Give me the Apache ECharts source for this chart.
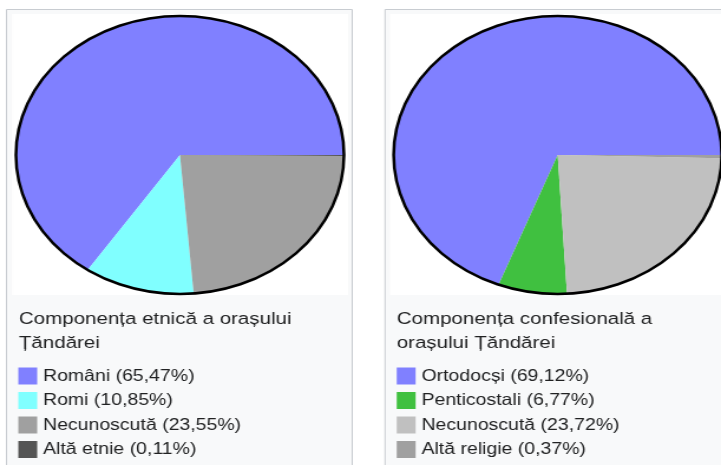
<!DOCTYPE html>
<html>
<head>
<meta charset="utf-8">
<script src="https://cdn.jsdelivr.net/npm/echarts@6/dist/echarts.min.js"></script>
<style>
  html, body { margin: 0; padding: 0; background: #ffffff; overflow: hidden; }
  #wrap { width: 721px; height: 465px; overflow: hidden; position: relative; }
  #chart { width: 611px; height: 465px; transform: scaleX(1.18); transform-origin: 0 0; }
</style>
</head>
<body>
<div id="wrap"><div id="chart"></div></div>
<script>
// ---- data ----
const etnieCategories = ['Români', 'Romi', 'Necunoscută', 'Altă etnie'];
const etnieValues = [65.47, 10.85, 23.55, 0.11];
const etnieColors = ['#8080ff', '#80ffff', '#a0a0a0', '#555555'];

const religieCategories = ['Ortodocși', 'Penticostali', 'Necunoscută', 'Altă religie'];
const religieValues = [69.12, 6.77, 23.72, 0.37];
const religieColors = ['#8080ff', '#40c040', '#c0c0c0', '#a0a0a0'];

const panelTitles = ['Componența etnică a orașului\nȚăndărei', 'Componența confesională a\norașului Țăndărei'];

// ---- helpers ----
const FONT = '"Liberation Sans", Arial, sans-serif';
const TXT = '#202122';
function label(cat, v) { return cat + ' (' + v.toFixed(2).replace('.', ',') + '%)'; }
function pieData(cats, vals, cols) {
  return cats.map((c, i) => ({ name: label(c, vals[i]), value: vals[i], itemStyle: { color: cols[i] } }));
}
function sum(a) { return a.reduce((s, x) => s + x, 0); }

const PIE_R = 139;
const CENTERS = [[152.5, 155], [472.6, 155]];
const LEFTS = [15.5, 336.2];

function pieSeries(data, center) {
  return {
    type: 'pie', center: center, radius: PIE_R, startAngle: 0, clockwise: false,
    data: data, label: { show: false }, labelLine: { show: false },
    itemStyle: { borderWidth: 0 }, emphasis: { disabled: true }, silent: true, z: 2
  };
}
function outlineSeries(total, center) {
  return {
    type: 'pie', center: center, radius: PIE_R, startAngle: 0, clockwise: false,
    data: [{ name: '', value: total }], label: { show: false }, labelLine: { show: false },
    itemStyle: { color: 'rgba(0,0,0,0)', borderColor: '#000000', borderWidth: 2.5 },
    emphasis: { disabled: true }, silent: true, z: 3
  };
}
function legendFor(names, left) {
  return {
    orient: 'vertical', left: left, top: 367.5, icon: 'rect',
    itemWidth: 16, itemHeight: 17, itemGap: 7.5, selectedMode: false, padding: 0,
    textStyle: { fontFamily: FONT, fontSize: 16.5, color: TXT, lineHeight: 17 },
    data: names
  };
}

const d1 = pieData(etnieCategories, etnieValues, etnieColors);
const d2 = pieData(religieCategories, religieValues, religieColors);

const chart = echarts.init(document.getElementById('chart'), null, { renderer: 'canvas' });
chart.setOption({
  animation: false,
  backgroundColor: '#ffffff',
  graphic: [
    { type: 'rect', z: -10, shape: { x: 5.5, y: 9.5, width: 293, height: 470 },
      style: { fill: '#f8f9fa', stroke: '#c8ccd1', lineWidth: 1 } },
    { type: 'rect', z: -9, shape: { x: 10.2, y: 14, width: 284.7, height: 281 },
      style: { fill: '#ffffff' } },
    { type: 'rect', z: -10, shape: { x: 326.3, y: 9.5, width: 400, height: 470 },
      style: { fill: '#f8f9fa', stroke: '#c8ccd1', lineWidth: 1 } },
    { type: 'rect', z: -9, shape: { x: 330.5, y: 14, width: 400, height: 281 },
      style: { fill: '#ffffff' } }
  ],
  title: [
    { text: panelTitles[0], left: 16, top: 307.5, padding: 0,
      textStyle: { fontFamily: FONT, fontSize: 17.4, fontWeight: 'normal', color: TXT, lineHeight: 24 } },
    { text: panelTitles[1], left: 336.2, top: 307.5, padding: 0,
      textStyle: { fontFamily: FONT, fontSize: 17.4, fontWeight: 'normal', color: TXT, lineHeight: 24 } }
  ],
  legend: [
    legendFor(d1.map(d => d.name), LEFTS[0]),
    legendFor(d2.map(d => d.name), LEFTS[1])
  ],
  series: [
    pieSeries(d1, CENTERS[0]),
    outlineSeries(sum(etnieValues), CENTERS[0]),
    pieSeries(d2, CENTERS[1]),
    outlineSeries(sum(religieValues), CENTERS[1])
  ]
});
</script>
</body>
</html>
